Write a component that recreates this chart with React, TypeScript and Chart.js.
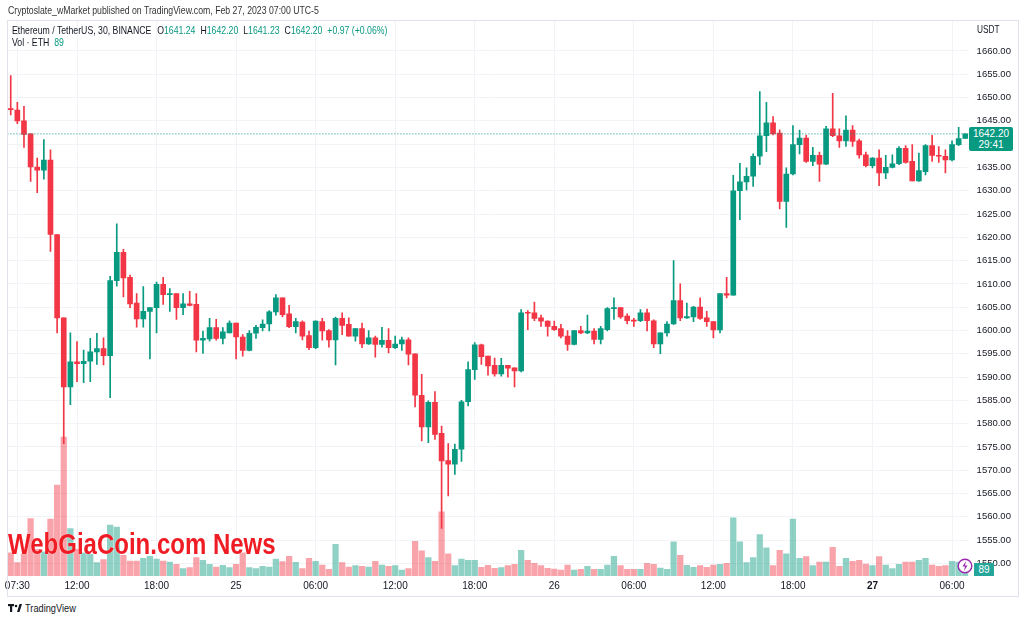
import React, { useEffect, useRef } from "react";
import { Chart, registerables } from "chart.js";

Chart.register(...registerables);

// ---- data (30-min candles, Feb 24 07:00 -> Feb 27 07:00, UTC-5) ----
const opens = [
  1647.6, 1647.3, 1645.0, 1642.2, 1635.1, 1634.4, 1636.6, 1620.6, 1602.7, 1587.9,
  1593.3, 1592.9, 1593.4, 1595.4, 1596.1, 1594.6, 1610.7, 1616.8, 1611.4, 1605.9,
  1602.5, 1604.1, 1604.9, 1609.9, 1607.7, 1607.9, 1604.9, 1605.7, 1605.6, 1597.9,
  1598.2, 1600.6, 1598.3, 1599.5, 1601.6, 1598.6, 1595.7, 1599.4, 1600.6, 1601.4,
  1604.0, 1607.0, 1603.6, 1600.8, 1601.8, 1598.9, 1596.3, 1601.9, 1600.0, 1598.0,
  1602.6, 1601.3, 1598.8, 1600.4, 1597.1, 1598.4, 1597.0, 1597.9, 1596.3, 1597.1,
  1598.0, 1595.0, 1586.1, 1579.3, 1584.6, 1577.9, 1572.1, 1571.3, 1574.5, 1584.7,
  1591.6, 1596.9, 1594.5, 1592.5, 1590.7, 1592.5, 1592.0, 1591.3, 1603.9, 1603.8,
  1602.7, 1602.0, 1600.9, 1600.4, 1598.8, 1597.0, 1600.0, 1599.5, 1599.9, 1598.1,
  1600.2, 1604.7, 1604.9, 1603.1, 1602.1, 1602.1, 1603.8, 1602.1, 1597.1, 1599.5,
  1601.4, 1606.4, 1602.7, 1602.9, 1605.0, 1602.7, 1601.9, 1600.1, 1607.9, 1607.6,
  1630.0, 1631.9, 1633.1, 1637.4, 1641.8, 1644.6, 1642.4, 1627.7, 1633.6, 1639.9,
  1641.3, 1636.3, 1637.6, 1635.7, 1643.3, 1641.8, 1640.7, 1643.0, 1640.7, 1637.7,
  1635.4, 1637.0, 1633.8, 1635.0, 1635.8, 1639.1, 1636.3, 1632.1, 1634.1, 1639.7,
  1637.6, 1637.4, 1636.6, 1639.9, 1641.24,
];
const highs = [
  1654.7, 1649.0, 1648.1, 1642.2, 1637.0, 1641.0, 1638.8, 1620.6, 1602.7, 1599.5,
  1597.6, 1595.8, 1598.3, 1599.4, 1598.4, 1611.6, 1622.9, 1617.4, 1611.9, 1607.9,
  1609.4, 1604.9, 1610.4, 1611.4, 1609.0, 1607.9, 1607.9, 1608.4, 1607.9, 1599.9,
  1602.6, 1602.4, 1600.6, 1602.1, 1601.6, 1599.1, 1600.0, 1601.1, 1602.3, 1604.3,
  1607.7, 1607.0, 1605.4, 1602.6, 1602.1, 1599.9, 1602.1, 1602.6, 1600.2, 1602.9,
  1603.8, 1602.7, 1600.4, 1601.6, 1600.0, 1598.8, 1600.7, 1600.4, 1598.8, 1598.6,
  1598.4, 1595.0, 1590.6, 1584.9, 1586.9, 1579.5, 1575.7, 1575.6, 1585.0, 1593.3,
  1597.4, 1597.1, 1594.5, 1594.1, 1594.0, 1592.5, 1592.0, 1604.5, 1604.3, 1606.1,
  1603.3, 1602.1, 1602.0, 1601.3, 1600.0, 1600.0, 1600.9, 1603.3, 1600.4, 1600.9,
  1604.9, 1607.0, 1604.9, 1603.6, 1602.6, 1604.5, 1604.6, 1602.3, 1599.5, 1601.9,
  1615.0, 1610.0, 1605.9, 1605.2, 1607.0, 1604.1, 1601.9, 1607.9, 1611.4, 1633.3,
  1635.9, 1634.9, 1637.9, 1651.3, 1649.0, 1645.9, 1643.1, 1634.9, 1644.0, 1643.0,
  1641.9, 1639.3, 1638.3, 1643.8, 1650.9, 1643.3, 1646.1, 1644.0, 1641.1, 1638.3,
  1637.1, 1638.8, 1637.6, 1637.7, 1639.5, 1639.7, 1639.9, 1638.1, 1639.9, 1641.9,
  1639.5, 1638.8, 1640.7, 1643.6, 1642.2,
];
const lows = [
  1646.3, 1644.4, 1639.3, 1632.0, 1629.6, 1632.5, 1617.0, 1599.5, 1575.7, 1584.1,
  1589.0, 1588.8, 1589.0, 1592.7, 1592.6, 1585.6, 1609.5, 1607.2, 1604.9, 1600.7,
  1600.7, 1593.9, 1599.5, 1605.6, 1604.1, 1602.4, 1603.4, 1605.3, 1595.4, 1595.1,
  1597.7, 1597.9, 1597.1, 1599.5, 1593.9, 1594.5, 1595.6, 1598.3, 1599.9, 1599.9,
  1603.3, 1602.9, 1600.6, 1599.5, 1598.0, 1595.9, 1596.1, 1597.9, 1596.4, 1592.6,
  1599.1, 1598.8, 1597.7, 1596.3, 1597.0, 1594.3, 1596.4, 1595.2, 1596.1, 1595.7,
  1592.6, 1583.6, 1576.3, 1575.9, 1576.6, 1557.5, 1564.5, 1569.1, 1571.9, 1583.8,
  1589.5, 1592.7, 1590.4, 1590.2, 1590.2, 1590.0, 1587.9, 1591.1, 1600.2, 1602.1,
  1600.9, 1598.8, 1600.0, 1598.4, 1595.7, 1596.9, 1599.3, 1599.3, 1597.1, 1597.1,
  1599.9, 1602.4, 1602.6, 1601.4, 1600.9, 1601.9, 1599.9, 1596.3, 1595.0, 1598.8,
  1601.3, 1602.1, 1602.6, 1601.9, 1602.4, 1600.9, 1598.4, 1599.5, 1607.0, 1607.6,
  1623.8, 1630.2, 1630.9, 1635.6, 1638.4, 1642.0, 1626.1, 1622.1, 1633.4, 1637.9,
  1636.1, 1635.4, 1632.0, 1635.6, 1641.6, 1639.3, 1639.5, 1639.5, 1637.0, 1635.1,
  1634.9, 1631.1, 1632.6, 1634.9, 1635.6, 1635.9, 1632.1, 1632.0, 1633.4, 1636.3,
  1636.1, 1633.8, 1636.4, 1639.7, 1641.23,
];
const closes = [
  1647.4, 1645.0, 1642.1, 1635.1, 1634.4, 1636.6, 1620.6, 1602.7, 1587.9, 1593.3,
  1592.9, 1593.4, 1595.4, 1596.1, 1594.6, 1610.7, 1616.8, 1611.3, 1605.7, 1602.5,
  1604.1, 1604.9, 1609.9, 1607.7, 1607.8, 1604.9, 1605.7, 1605.4, 1597.9, 1598.3,
  1600.6, 1598.3, 1599.7, 1601.6, 1598.6, 1595.7, 1599.4, 1600.7, 1601.4, 1604.0,
  1607.0, 1603.4, 1600.8, 1601.9, 1598.8, 1596.3, 1602.0, 1599.9, 1598.0, 1602.6,
  1601.1, 1598.8, 1600.4, 1597.1, 1598.4, 1597.0, 1597.9, 1596.3, 1597.1, 1598.0,
  1594.9, 1586.1, 1579.3, 1584.6, 1577.7, 1572.0, 1571.3, 1574.5, 1584.7, 1591.6,
  1596.9, 1594.4, 1592.4, 1590.7, 1592.5, 1591.9, 1591.3, 1603.8, 1603.7, 1602.6,
  1602.0, 1600.9, 1600.2, 1598.8, 1597.0, 1600.0, 1599.5, 1599.9, 1598.1, 1600.4,
  1604.7, 1604.9, 1602.9, 1602.1, 1602.0, 1603.8, 1602.1, 1597.1, 1599.5, 1601.4,
  1606.4, 1602.7, 1603.0, 1605.0, 1602.6, 1601.9, 1600.1, 1607.9, 1607.6, 1630.0,
  1631.9, 1633.1, 1637.4, 1641.8, 1644.6, 1642.2, 1627.7, 1633.6, 1639.9, 1641.3,
  1636.3, 1637.6, 1635.7, 1643.3, 1641.8, 1640.7, 1643.0, 1640.6, 1637.7, 1635.4,
  1637.0, 1633.8, 1635.0, 1635.8, 1639.1, 1636.1, 1632.1, 1634.3, 1639.7, 1637.6,
  1637.4, 1636.6, 1639.9, 1641.2, 1642.2,
];
const volumes = [
  161, 93, 154, 401, 187, 168, 397, 635, 971, 331,
  187, 161, 152, 93, 114, 355, 341, 145, 105, 105,
  124, 138, 119, 105, 98, 82, 51, 58, 128, 110,
  82, 63, 75, 58, 82, 161, 58, 51, 68, 63,
  119, 100, 138, 96, 51, 124, 103, 77, 47, 222,
  93, 63, 72, 68, 63, 103, 77, 68, 72, 42,
  51, 243, 175, 128, 103, 448, 154, 72, 119, 110,
  110, 61, 75, 54, 58, 72, 82, 180, 110, 89,
  72, 54, 49, 42, 77, 42, 47, 68, 47, 47,
  77, 138, 72, 47, 47, 47, 89, 82, 56, 47,
  238, 145, 75, 61, 72, 61, 77, 82, 89, 406,
  238, 93, 128, 289, 196, 72, 180, 154, 397, 124,
  135, 72, 98, 98, 201, 68, 124, 103, 110, 84,
  72, 135, 77, 51, 82, 98, 98, 110, 124, 77,
  68, 72, 103, 98, 89,
];
const timeTickIndex = [1, 10, 22, 34, 46, 58, 70, 82, 94, 106, 118, 130, 142];
const timeTickLabels = ["07:30", "12:00", "18:00", "25", "06:00", "12:00", "18:00", "26", "06:00", "12:00", "18:00", "27", "06:00"];
const priceTicks = [1550, 1555, 1560, 1565, 1570, 1575, 1580, 1585, 1590, 1595, 1600, 1605, 1610, 1615, 1620, 1625, 1630, 1635, 1640, 1645, 1650, 1655, 1660];
const priceRange = [1547.3, 1666.65];
const volumeRange = [0, 3884];

const UP = "#089981";
const DOWN = "#f23645";
const UP_VOL = "rgba(8,153,129,0.45)";
const DOWN_VOL = "rgba(242,54,69,0.45)";
const GRID = "#f2f3f6";
const TEXT = "#131722";
const FONT = '"Liberation Sans", Arial, sans-serif';

export default function App() {
  const ref = useRef<HTMLCanvasElement>(null);

  useEffect(() => {
    const prev = document.body.style.margin;
    document.body.style.margin = "0";
    const idx = closes.map((_, i) => i);
    const isUp = idx.map((i) => closes[i] >= opens[i]);
    const last = closes[closes.length - 1];

    const chart = new Chart(ref.current as HTMLCanvasElement, {
      type: "bar",
      data: {
        datasets: [
          {
            type: "line",
            data: [
              { x: -0.5, y: last },
              { x: closes.length - 0.5, y: last },
            ],
            borderColor: UP,
            borderWidth: 1,
            borderDash: [1, 2],
            pointRadius: 0,
            yAxisID: "y",
            order: 0,
          } as any,
          {
            data: idx.map((i) => ({ x: i, y: [Math.min(opens[i], closes[i]), Math.max(opens[i], closes[i])] })),
            backgroundColor: idx.map((i) => (isUp[i] ? UP : DOWN)),
            grouped: false,
            categoryPercentage: 1,
            barPercentage: 1,
            maxBarThickness: 5,
            minBarLength: 1,
            borderWidth: 0,
            yAxisID: "y",
            order: 1,
          } as any,
          {
            data: idx.map((i) => ({ x: i, y: [lows[i], highs[i]] })),
            backgroundColor: idx.map((i) => (isUp[i] ? UP : DOWN)),
            grouped: false,
            categoryPercentage: 1,
            barPercentage: 1,
            maxBarThickness: 1,
            borderWidth: 0,
            yAxisID: "y",
            order: 2,
          } as any,
          {
            data: idx.map((i) => ({ x: i, y: volumes[i] })),
            backgroundColor: idx.map((i) => (isUp[i] ? UP_VOL : DOWN_VOL)),
            grouped: false,
            categoryPercentage: 1,
            barPercentage: 1,
            maxBarThickness: 5.6,
            borderWidth: 0,
            yAxisID: "v",
            order: 3,
          } as any,
        ],
      },
      options: {
        animation: false,
        responsive: true,
        maintainAspectRatio: false,
        layout: { padding: { left: 7.4, top: 20, right: 0, bottom: 0 } },
        plugins: { legend: { display: false }, tooltip: { enabled: false } },
        scales: {
          x: {
            type: "linear",
            offset: false,
            min: -0.5,
            max: closes.length - 0.5,
            afterBuildTicks: (s: any) => {
              s.ticks = timeTickIndex.map((v) => ({ value: v }));
            },
            afterFit: (s: any) => {
              s.height = 20;
            },
            ticks: {
              autoSkip: false,
              maxRotation: 0,
              padding: 4,
              color: TEXT,
              font: (ctx: any) => ({
                family: FONT,
                size: 10,
                weight: ctx.tick && ctx.tick.label === "27" ? "bold" : "normal",
              }),
              callback: (_v: any, i: number) => timeTickLabels[i] ?? "",
            },
            grid: { color: GRID, drawTicks: false, offset: false },
            border: { display: false },
          },
          y: {
            position: "right",
            min: priceRange[0],
            max: priceRange[1],
            afterBuildTicks: (s: any) => {
              s.ticks = priceTicks.map((v) => ({ value: v }));
            },
            afterFit: (s: any) => {
              s.width = 49.4;
            },
            ticks: {
              padding: 8,
              color: TEXT,
              font: { family: FONT, size: 9.5 },
              callback: (v: any) => Number(v).toFixed(2),
            },
            grid: { color: GRID, drawTicks: false },
            border: { display: false },
          },
          v: {
            display: false,
            min: volumeRange[0],
            max: volumeRange[1],
          },
        },
      } as any,
    });
    return () => {
      chart.destroy();
      document.body.style.margin = prev;
    };
  }, []);

  const abs = (s: any) => ({ position: "absolute" as const, ...s });
  const narrow = { transform: "scaleX(0.83)", transformOrigin: "left top", whiteSpace: "nowrap" as const };

  return (
    <div style={{ position: "fixed", left: 0, top: 0, width: 1024, height: 622, background: "#fff", overflow: "hidden", fontFamily: FONT, color: TEXT }}>
      <div style={abs({ left: 0, top: 0, width: 1018, height: 596 })}>
        <canvas ref={ref} />
      </div>
      {/* frame */}
      <div style={abs({ left: 7, top: 20, width: 1010, height: 575, border: "1px solid #e0e3eb", pointerEvents: "none" })} />
      {/* publisher line */}
      <div style={abs({ left: 8, top: 4, fontSize: 10.5, color: "#333", ...narrow })}>
        Cryptoslate_wMarket published on TradingView.com, Feb 27, 2023 07:00 UTC-5
      </div>
      {/* legend */}
      <div style={abs({ left: 12, top: 24, fontSize: 10.5, lineHeight: "12px", ...narrow })}>
        <span>Ethereum / TetherUS, 30, BINANCE</span>
        <span style={{ marginLeft: 7 }}>O</span><span style={{ color: UP }}>1641.24</span>
        <span style={{ marginLeft: 6 }}>H</span><span style={{ color: UP }}>1642.20</span>
        <span style={{ marginLeft: 6 }}>L</span><span style={{ color: UP }}>1641.23</span>
        <span style={{ marginLeft: 6 }}>C</span><span style={{ color: UP }}>1642.20</span>
        <span style={{ marginLeft: 6, color: UP }}>+0.97 (+0.06%)</span>
      </div>
      <div style={abs({ left: 12, top: 36, fontSize: 10.5, lineHeight: "12px", ...narrow })}>
        <span>Vol · ETH</span><span style={{ marginLeft: 6, color: UP }}>89</span>
      </div>
      {/* axis unit */}
      <div style={abs({ left: 977, top: 24, fontSize: 10, ...narrow })}>USDT</div>
      {/* last price label */}
      <div style={abs({ left: 969, top: 127, width: 44, height: 24, background: UP, borderRadius: 2, color: "#fff", fontSize: 10, lineHeight: "11px", paddingTop: 1, boxSizing: "border-box", textAlign: "center" })}>
        <div>1642.20</div>
        <div>29:41</div>
      </div>
      {/* volume badge */}
      <div style={abs({ left: 974, top: 563, width: 20, height: 13, background: "#26a69a", color: "#fff", fontSize: 10, lineHeight: "13px", textAlign: "center" })}>89</div>
      <svg style={abs({ left: 957, top: 558 })} width="16" height="16" viewBox="0 0 16 16">
        <circle cx="8" cy="8" r="6.8" fill="#fff" stroke="#9c27b0" strokeWidth="1.4" />
        <path d="M9 3 L5.5 8.5 L8 8.5 L7 13 L10.5 7.5 L8 7.5 Z" fill="#9c27b0" />
      </svg>
      {/* watermark */}
      <div style={abs({ left: 8, top: 528, fontFamily: FONT, fontWeight: 900, fontSize: 24, color: "#ef1c24", whiteSpace: "nowrap", transform: "scaleY(1.2)", transformOrigin: "left top", textShadow: "0 0 1px #fff" })}>
        WebGiaCoin.com News
      </div>
      {/* bottom logo */}
      <div style={abs({ left: 8, top: 602, fontSize: 10.5, whiteSpace: "nowrap", display: "flex", alignItems: "center" })}>
        <svg width="14" height="10" viewBox="0 0 14 10">
          <rect x="0" y="1" width="6" height="2.2" fill={TEXT} />
          <rect x="2" y="1" width="2.2" height="8" fill={TEXT} />
          <circle cx="8" cy="3" r="1.3" fill={TEXT} />
          <path d="M9 9 L11.5 1 L14 1 L11.5 9 Z" fill={TEXT} />
        </svg>
        <span style={{ marginLeft: 3, display: "inline-block", transform: "scaleX(0.88)", transformOrigin: "left center" }}>TradingView</span>
      </div>
    </div>
  );
}
